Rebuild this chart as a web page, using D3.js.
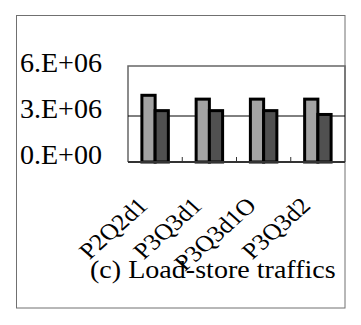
<!DOCTYPE html>
<html lang="en">
<head>
<meta charset="UTF-8">
<title>Load-store traffics</title>
<script src="https://cdn.jsdelivr.net/npm/d3@7"></script>
<style>
  body { margin: 0; background: #fff; }
  svg { display: block; }
  text { font-family: "Liberation Serif", "Times New Roman", serif; fill: #000; }
</style>
</head>
<body>
<script>
const categories = ["P2Q2d1", "P3Q3d1", "P3Q3d1O", "P3Q3d2"];
const seriesLight = [4.35e6, 4.1e6, 4.1e6, 4.1e6];
const seriesDark = [3.35e6, 3.35e6, 3.35e6, 3.1e6];
const yTicks = [0, 3e6, 6e6];
const yTickLabels = ["0.E+00", "3.E+06", "6.E+06"];
const caption = "(c) Load-store traffics";

const width = 361, height = 325;
const plot = {left: 128, right: 345, top: 66, bottom: 162};

const svg = d3.select("body").append("svg").attr("width", width).attr("height", height);

// outer frame
svg.append("rect")
  .attr("x", 16.5).attr("y", 15.5).attr("width", 328.5).attr("height", 292.5)
  .attr("fill", "none").attr("stroke", "#707070").attr("stroke-width", 1);

const x = d3.scaleBand().domain(categories).range([plot.left, plot.right]);
const x1 = d3.scaleBand().domain([0, 1]).range([0, x.bandwidth()]).paddingOuter(1.05);
const y = d3.scaleLinear().domain([0, 6e6]).range([plot.bottom, 70]);

// plot frame (top / left / right)
svg.append("path")
  .attr("d", `M${plot.left},${plot.bottom}V${plot.top}H${plot.right}V${plot.bottom}`)
  .attr("fill", "none").attr("stroke", "#666").attr("stroke-width", 1.5);

// gridline
svg.selectAll("line.grid")
  .data(yTicks.filter(d => d > 0 && y(d) > plot.top + 5))
  .join("line").attr("class", "grid")
  .attr("x1", plot.left).attr("x2", plot.right)
  .attr("y1", d => y(d)).attr("y2", d => y(d))
  .attr("stroke", "#000").attr("stroke-width", 1);

// bars
const groups = svg.selectAll("g.grp")
  .data(categories.map((c, i) => ({c, vals: [seriesLight[i], seriesDark[i]]})))
  .join("g").attr("class", "grp")
  .attr("transform", d => `translate(${x(d.c)},0)`);

groups.selectAll("rect")
  .data(d => d.vals.map((v, k) => ({k, v})))
  .join("rect")
  .attr("x", d => x1(d.k))
  .attr("y", d => y(d.v))
  .attr("width", x1.bandwidth())
  .attr("height", d => y(0) - y(d.v))
  .attr("fill", d => d.k === 0 ? "#a3a3a3" : "#505050")
  .attr("stroke", "#000").attr("stroke-width", 3);

// bottom axis with inner ticks between categories
const xAxis = svg.append("g");
xAxis.append("line")
  .attr("x1", plot.left).attr("x2", plot.right)
  .attr("y1", plot.bottom).attr("y2", plot.bottom)
  .attr("stroke", "#333").attr("stroke-width", 2);
xAxis.selectAll("line.tick")
  .data(categories.slice(1))
  .join("line").attr("class", "tick")
  .attr("x1", d => x(d)).attr("x2", d => x(d))
  .attr("y1", plot.bottom).attr("y2", plot.bottom - 5)
  .attr("stroke", "#333").attr("stroke-width", 1);

// y tick labels
svg.selectAll("text.ylab")
  .data(yTicks)
  .join("text").attr("class", "ylab")
  .attr("text-anchor", "end")
  .attr("font-size", 27)
  .attr("transform", d => `translate(102,${y(d) + 1.5}) scale(1.04,1)`)
  .text((d, i) => yTickLabels[i]);

// category labels, rotated
svg.selectAll("text.xlab")
  .data(categories)
  .join("text").attr("class", "xlab")
  .attr("text-anchor", "end")
  .attr("font-size", 23)
  .attr("transform", d => `translate(${x(d) + x.bandwidth() / 2 - 6},207) scale(1.12,1) rotate(-45)`)
  .text(d => d);

// caption
svg.append("text")
  .attr("font-size", 26)
  .attr("transform", "translate(90,278) scale(1.08,1)")
  .text(caption);
</script>
</body>
</html>
